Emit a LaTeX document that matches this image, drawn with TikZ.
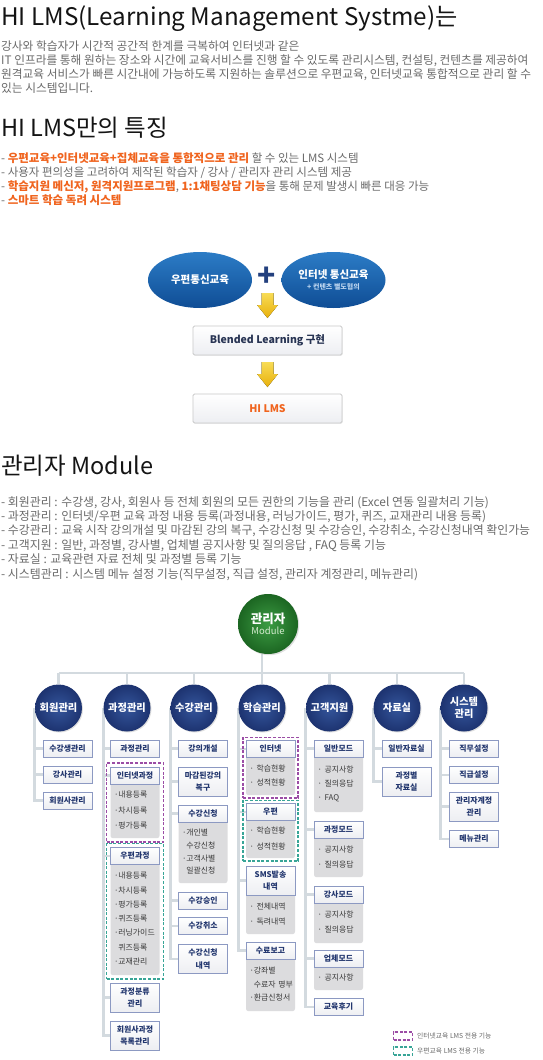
\documentclass[tikz,border=0pt]{standalone}
\usepackage{fontspec}
\setmainfont{Noto Sans CJK KR}
\usetikzlibrary{shapes.geometric,shadows,fit,backgrounds}

\definecolor{headblack}{HTML}{141414}
\definecolor{bodygray}{HTML}{6A6A6A}
\definecolor{hiorange}{HTML}{F0641E}
\definecolor{ovaltop}{HTML}{2C7CC6}
\definecolor{ovalbottom}{HTML}{0F4D95}
\definecolor{ovalsub}{HTML}{B9D3EE}
\definecolor{plusnavy}{HTML}{23407E}
\definecolor{arrowtop}{HTML}{F8DC55}
\definecolor{arrowbottom}{HTML}{E8B00C}
\definecolor{flowline}{HTML}{C9C9C9}
\definecolor{flowtext}{HTML}{283453}
\definecolor{ballin}{HTML}{34559B}
\definecolor{ballout}{HTML}{1D3370}
\definecolor{rootin}{HTML}{3C9C43}
\definecolor{rootout}{HTML}{1C6622}
\definecolor{modtext}{HTML}{D5EBCF}
\definecolor{treegray}{HTML}{D3DADF}
\definecolor{boxline}{HTML}{8C99C2}
\definecolor{boxtext}{HTML}{22366E}
\definecolor{boxshade}{HTML}{EDEEF2}
\definecolor{panegray}{HTML}{DCDCDE}
\definecolor{panetext}{HTML}{3A3A3A}
\definecolor{netpurple}{HTML}{9B4DA5}
\definecolor{postteal}{HTML}{38A597}

\tikzset{
  heading/.style={anchor=base west, inner sep=0pt, text=headblack, font=\fontsize{23.5}{26}\selectfont},
  bodyline/.style={anchor=base west, inner sep=0pt, text=bodygray, font=\fontsize{#1}{13}\selectfont},
  bodyline/.default=11.6,
  oval/.style={ellipse, minimum width=104pt, minimum height=56pt, inner sep=0pt, top color=ovaltop, bottom color=ovalbottom, text=white, align=center, font=\fontsize{10.5}{12}\selectfont\bfseries},
  yarrow/.style={top color=arrowtop, bottom color=arrowbottom},
  flowbox/.style={rectangle, draw=flowline, line width=0.8pt, rounded corners=1.5pt, minimum width=149pt, minimum height=29pt, top color=white, bottom color=boxshade, font=\fontsize{10.5}{12}\selectfont\bfseries, drop shadow={opacity=0.12, shadow xshift=0.8pt, shadow yshift=-0.8pt}},
  rootball/.style={circle, minimum size=60pt, inner sep=0pt, align=center, text=white, inner color=rootin, outer color=rootout, font=\fontsize{12.5}{13}\selectfont\bfseries, drop shadow={opacity=0.25, shadow xshift=1.2pt, shadow yshift=-1.2pt}},
  catball/.style={circle, minimum size=47pt, inner sep=0pt, align=center, text=white, inner color=ballin, outer color=ballout, font=\fontsize{10.2}{12}\selectfont\bfseries, drop shadow={opacity=0.25, shadow xshift=1pt, shadow yshift=-1pt}},
  itembox/.style={rectangle, draw=boxline, line width=0.8pt, minimum width=49pt, minimum height=17pt, inner sep=0.5pt, align=center, top color=white, bottom color=boxshade, text=boxtext, font=\fontsize{7.9}{12.2}\selectfont\bfseries, drop shadow={opacity=0.12, shadow xshift=0.6pt, shadow yshift=-0.6pt}},
  tallbox/.style={itembox, minimum height=29pt},
  pane/.style={anchor=north, rectangle, fill=panegray, rounded corners=2.5pt, minimum width=49pt, text width=42pt, inner xsep=3.5pt, inner ysep=0pt, align=left, text=panetext, font=\fontsize{7.9}{#1}\selectfont},
  pane/.default=14.5,
  treeline/.style={draw=treegray, line width=2.8pt},
  netframe/.style={draw=netpurple, line width=1.5pt, dash pattern=on 3pt off 1.6pt, inner sep=3.5pt},
  postframe/.style={netframe, draw=postteal},
  legendtext/.style={anchor=west, inner sep=0pt, text=bodygray, font=\fontsize{6.8}{8}\selectfont},
}

\begin{document}
\begin{tikzpicture}[x=1pt, y=-1pt]
    \useasboundingbox (0,0) rectangle (542,1060);
    \begin{scope}[on background layer]
        \fill[white] (0,0) rectangle (542,1060);
    \end{scope}

    % HI LMS 소개
    \node[heading, font=\fontsize{24.2}{26}\selectfont] (title1) at (1,25) {HI LMS(Learning Management Systme)는};
    \node[bodyline=11.7] (intro1) at (1,50) {강사와 학습자가 시간적 공간적 한계를 극복하여 인터넷과 같은};
    \node[bodyline=11.7] (intro2) at (1,64) {IT 인프라를 통해 원하는 장소와 시간에 교육서비스를 진행 할 수 있도록 관리시스템, 컨설팅, 컨텐츠를 제공하여};
    \node[bodyline=11.7] (intro3) at (1,78) {원격교육 서비스가 빠른 시간내에 가능하도록 지원하는 솔루션으로 우편교육, 인터넷교육 통합적으로 관리 할 수};
    \node[bodyline=11.7] (intro4) at (1,92) {있는 시스템입니다.};

    % 특징
    \node[heading] (title2) at (1,136) {HI LMS만의 특징};
    \node[bodyline=11.5] (feat1) at (1,162) {- \textcolor{hiorange}{\bfseries 우편교육+인터넷교육+집체교육을 통합적으로 관리} 할 수 있는 LMS 시스템};
    \node[bodyline=11.5] (feat2) at (1,176) {- 사용자 편의성을 고려하여 제작된 학습자 / 강사 / 관리자 관리 시스템 제공};
    \node[bodyline=11.5] (feat3) at (1,190) {- \textcolor{hiorange}{\bfseries 학습지원 메신저, 원격지원프로그램}, \textcolor{hiorange}{\bfseries 1:1채팅상담 기능}을 통해 문제 발생시 빠른 대응 가능};
    \node[bodyline=11.5] (feat4) at (1,204) {- \textcolor{hiorange}{\bfseries 스마트 학습 독려 시스템}};

    % Blended Learning 흐름
    \node[oval] (postal) at (200,280) {우편통신교육};
    \node[oval] (online) at (333.5,280) {인터넷 통신교육\\[-1pt]{\fontsize{7}{8}\selectfont\color{ovalsub}+ 컨텐츠 별도협의}};
    \node[text=plusnavy, inner sep=0pt, font=\fontsize{30}{30}\selectfont\bfseries] (plus) at (267,277) {+};
    \node[flowbox, text=flowtext] (blend) at (267.5,340.5) {Blended Learning 구현};
    \node[flowbox, text=hiorange] (hilms) at (267.5,408.5) {HI LMS};
    \coordinate (arrowA) at (267.5,293);
    \coordinate (arrowB) at (267.5,362);
    \foreach \a in {arrowA, arrowB} {
        \begin{scope}[shift={(\a)}]
            \fill[yarrow] (-6,0) -- (6,0) -- (6,12) -- (10.5,12) -- (0,25) -- (-10.5,12) -- (-6,12) -- cycle;
        \end{scope}
    }

    % 관리자 Module
    \node[heading] (title3) at (1,474) {관리자 Module};
    \foreach \y/\t in {506/{- 회원관리 : 수강생, 강사, 회원사 등 전체 회원의 모든 권한의 기능을 관리 (Excel 연동 일괄처리 기능)},
                       520.4/{- 과정관리 : 인터넷/우편 교육 과정 내용 등록(과정내용, 러닝가이드, 평가, 퀴즈, 교재관리 내용 등록)},
                       534.8/{- 수강관리 : 교육 시작 강의개설 및 마감된 강의 복구, 수강신청 및 수강승인, 수강취소, 수강신청내역 확인가능},
                       549.2/{- 고객지원 : 일반, 과정별, 강사별, 업체별 공지사항 및 질의응답 , FAQ 등록 기능},
                       563.6/{- 자료실 : 교육관련 자료 전체 및 과정별 등록 기능},
                       578/{- 시스템관리 : 시스템 메뉴 설정 기능(직무설정, 직급 설정, 관리자 계정관리, 메뉴관리)}} {
        \node[bodyline=11.9] at (1,\y) {\t};
    }

    % 조직도
    \node[rootball] (root) at (268,624) {관리자\\[-2pt]{\fontsize{9.5}{10}\selectfont\mdseries\color{modtext}Module}};
    \coordinate (bar) at (264,673);
    \foreach \n/\x/\t in {member/58.5/회원관리, course/127/과정관리, lecture/194/수강관리, study/262/학습관리,
                          support/329.5/고객지원, archive/397/자료실, system/464/{시스템\\관리}} {
        \node[catball] (\n) at (\x,708) {\t};
    }

    % 회원관리
    \foreach \n/\y/\t in {m1/748.5/수강생관리, m2/774.5/강사관리, m3/800.5/회원사관리} {
        \node[itembox] (\n) at (67.5,\y) {\t};
    }

    % 과정관리
    \node[itembox] (c1) at (135,748.5) {과정관리};
    \node[pane=15.5, minimum height=56pt] (c2p) at (135,782) {·내용등록\\·차시등록\\·평가등록};
    \node[itembox] (c2) at (135,775.5) {인터넷과정};
    \node[netframe, fit=(c2)(c2p)] (c2f) {};
    \node[pane=14.3, minimum height=113pt] (c3p) at (135,862) {·내용등록\\·차시등록\\·평가등록\\·퀴즈등록\\·러닝가이드\\\hphantom{·}퀴즈등록\\·교재관리};
    \node[itembox] (c3) at (135,856) {우편과정};
    \node[postframe, fit=(c3)(c3p)] (c3f) {};
    \node[tallbox] (c4) at (135,997.5) {과정분류\\관리};
    \node[tallbox] (c5) at (135,1035.5) {회원사과정\\목록관리};

    % 수강관리
    \node[itembox] (l1) at (203,748.5) {강의개설};
    \node[tallbox] (l2) at (203,781.5) {마감된강의\\복구};
    \node[pane=12.7, minimum height=63pt] (l3p) at (203,820) {·개인별\\\hphantom{·}수강신청\\·고객사별\\\hphantom{·}일괄신청};
    \node[itembox] (l3) at (203,813.5) {수강신청};
    \foreach \n/\y/\t in {l4/900.5/수강승인, l5/926/수강취소} {
        \node[itembox] (\n) at (203,\y) {\t};
    }
    \node[tallbox] (l6) at (203,959) {수강신청\\내역};

    % 학습관리
    \node[pane=14, minimum height=39pt] (s1p) at (270.5,756) {· 학습현황\\· 성적현황};
    \node[itembox] (s1) at (270.5,749) {인터넷};
    \node[netframe, inner sep=2.7pt, fit=(s1)(s1p)] (s1f) {};
    \node[pane=16, minimum height=39pt] (s2p) at (270.5,819) {· 학습현황\\· 성적현황};
    \node[itembox] (s2) at (270.5,812) {우편};
    \node[postframe, inner sep=2.7pt, fit=(s2)(s2p)] (s2f) {};
    \node[pane=15, minimum height=41pt] (s3p) at (270.5,893) {· 전체내역\\· 독려내역};
    \node[tallbox] (s3) at (270.5,880.5) {SMS발송\\내역};
    \node[pane=13.5, minimum height=54pt] (s4p) at (270.5,957) {·강좌별\\\mbox{\hphantom{·}수료자 명부}\\·환급신청서};
    \node[itembox] (s4) at (270.5,950.5) {수료보고};

    % 고객지원
    \node[pane=14, minimum height=57pt] (g1p) at (338.5,755) {· 공지사항\\· 질의응답\\· FAQ};
    \node[itembox] (g1) at (338.5,748.5) {일반모드};
    \node[pane=15, minimum height=41pt] (g2p) at (338.5,836) {· 공지사항\\· 질의응답};
    \node[itembox] (g2) at (338.5,829.5) {과정모드};
    \node[pane=15, minimum height=42pt] (g3p) at (338.5,901) {· 공지사항\\· 질의응답};
    \node[itembox] (g3) at (338.5,894.5) {강사모드};
    \node[pane, minimum height=25pt] (g4p) at (338.5,965) {· 공지사항};
    \node[itembox] (g4) at (338.5,958.5) {업체모드};
    \node[itembox] (g5) at (338.5,1007) {교육후기};

    % 자료실
    \node[itembox] (a1) at (406.5,748.5) {일반자료실};
    \node[tallbox] (a2) at (406.5,781.5) {과정별\\자료실};

    % 시스템관리
    \foreach \n/\y/\t in {y1/748.5/직무설정, y2/775/직급설정, y4/839/메뉴관리} {
        \node[itembox] (\n) at (474,\y) {\t};
    }
    \node[tallbox] (y3) at (474,806.5) {관리자계정\\관리};

    % 연결선
    \begin{scope}[on background layer]
        \draw[treeline] (root.south -| study) -- (study |- bar);
        \draw[treeline] (member |- bar) -- (system |- bar);
        \foreach \n in {member,course,lecture,study,support,archive,system} {
            \draw[treeline] (\n |- bar) -- (\n.north);
        }
        \foreach \col/\last/\others in {member/m3/{m1,m2}, course/c5/{c1,c2,c3,c4}, lecture/l6/{l1,l2,l3,l4,l5},
                                        study/s4/{s1,s2,s3}, support/g5/{g1,g2,g3,g4}, archive/a2/{a1}, system/y4/{y1,y2,y3}} {
            \draw[treeline] (\col.west) |- (\last.west);
            \foreach \n in \others {
                \draw[treeline] (\col.west |- \n) -- (\n.west);
            }
        }
    \end{scope}

    % 범례
    \node[netframe, inner sep=0pt, minimum width=19pt, minimum height=8pt] (legnet) at (403,1036) {};
    \node[legendtext] (legnettext) at (417,1036) {인터넷교육 LMS 전용 기능};
    \node[postframe, inner sep=0pt, minimum width=19pt, minimum height=8pt] (legpost) at (403,1051) {};
    \node[legendtext] (legposttext) at (417,1051) {우편교육 LMS 전용 기능};
\end{tikzpicture}
\end{document}
